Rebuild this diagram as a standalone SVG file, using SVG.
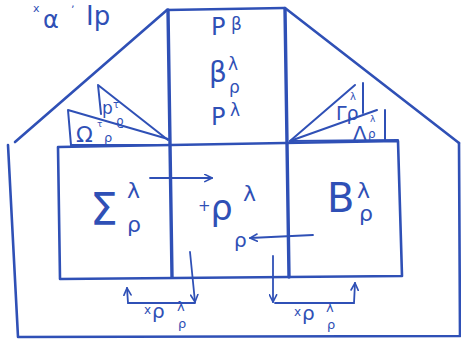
<svg xmlns="http://www.w3.org/2000/svg" width="461" height="339" viewBox="0 0 461 339">
<defs>
<marker id="ah" viewBox="0 0 10 10" refX="9" refY="5" markerWidth="9" markerHeight="9" markerUnits="userSpaceOnUse" orient="auto">
<path d="M1,1 L9,5 L1,9" fill="none" stroke="#2f50b6" stroke-width="1.8" stroke-linecap="round"/>
</marker>
</defs>
<style>
.ln{fill:none;stroke:#2f50b6;stroke-width:2.6;stroke-linecap:round;stroke-linejoin:round}
.thk{fill:none;stroke:#2f50b6;stroke-width:3.4;stroke-linecap:round}
.th{fill:none;stroke:#2f50b6;stroke-width:2;stroke-linecap:round}
.ar{fill:none;stroke:#2f50b6;stroke-width:1.8;stroke-linecap:round}
text{font-family:"DejaVu Sans","Liberation Sans",sans-serif;fill:#2f50b6}
</style>
<g id="corner-label">
<text x="33" y="12" font-size="11">x</text>
<text x="43" y="28" font-size="24">α</text>
<text x="71" y="13" font-size="11">ʼ</text>
<text x="86" y="25" font-size="26">Ip</text>
</g>
<g id="house">
<path class="ln" d="M15,142 L167,10"/>
<path class="ln" d="M285,8 L459,143"/>
<path class="ln" d="M8,145 L18,337 L460,336 L459,143"/>
<path class="ln" d="M167,10 L284,8"/>
</g>
<g id="column">
<path class="thk" d="M168,10 L172,277"/>
<path class="thk" d="M285,9 L289,277"/>
<text x="211" y="35" font-size="24">P</text>
<text x="231" y="30" font-size="17">β</text>
<text x="209" y="82" font-size="28">β</text>
<text x="228" y="70" font-size="17">λ</text>
<text x="229" y="93" font-size="17">ρ</text>
<text x="211" y="125" font-size="24">P</text>
<text x="230" y="116" font-size="17">λ</text>
</g>
<g id="box">
<path class="ln" d="M58,147 L398,141 L402,276 L60,279 Z"/>
</g>
<g id="left-triangles">
<path class="th" d="M98,85 L168,140 M98,85 L101,114"/>
<path class="th" d="M68,110 L168,139 M68,110 L71,145 L168,145"/>
<text x="102" y="114" font-size="17">p</text>
<text x="113" y="108" font-size="10">τ</text>
<text x="116" y="125" font-size="12">ϱ</text>
<text x="76" y="142" font-size="22">Ω</text>
<text x="97" y="127" font-size="9">τ</text>
<text x="104" y="142" font-size="13">ρ</text>
</g>
<g id="right-triangles">
<path class="th" d="M290,141 L355,85 M363,83 L363,113"/>
<path class="th" d="M290,141 L377,110 M385,110 L385,140 M290,141 L398,140"/>
<text x="336" y="120" font-size="19">Γρ</text>
<text x="350" y="100" font-size="10">λ</text>
<text x="353" y="140" font-size="20">Λ</text>
<text x="370" y="122" font-size="9">λ</text>
<text x="368" y="138" font-size="12">ρ</text>
</g>
<g id="sigma-cell">
<text x="90" y="225" font-size="44">Σ</text>
<text x="127" y="198" font-size="22">λ</text>
<text x="127" y="232" font-size="22">ρ</text>
</g>
<g id="rho-cell">
<text x="198" y="220" font-size="35"><tspan font-size="15" dy="-9">+</tspan><tspan dy="9">ρ</tspan></text>
<text x="243" y="201" font-size="22">λ</text>
<text x="234" y="247" font-size="20">ρ</text>
</g>
<g id="b-cell">
<text x="327" y="212" font-size="40">B</text>
<text x="357" y="198" font-size="22">λ</text>
<text x="359" y="221" font-size="22">ρ</text>
</g>
<g id="bottom-labels">
<text x="144" y="314" font-size="12">x</text>
<text x="152" y="318" font-size="20">ρ</text>
<text x="177" y="311" font-size="13">λ</text>
<text x="178" y="328" font-size="13">ρ</text>
<text x="294" y="316" font-size="12">x</text>
<text x="302" y="320" font-size="20">ρ</text>
<text x="326" y="312" font-size="13">λ</text>
<text x="327" y="329" font-size="13">ρ</text>
</g>
<g id="connectors">
<path class="ar" d="M150,178 L212,178" marker-end="url(#ah)"/>
<path class="ar" d="M313,235 L250,238" marker-end="url(#ah)"/>
<path class="ar" d="M190,252 L195,302" marker-end="url(#ah)"/>
<path class="ar" d="M195,303 L128,303 L127,288" marker-end="url(#ah)"/>
<path class="ar" d="M273,256 L273,302" marker-end="url(#ah)"/>
<path class="ar" d="M275,303 L354,303 L355,283" marker-end="url(#ah)"/>
</g>
</svg>
